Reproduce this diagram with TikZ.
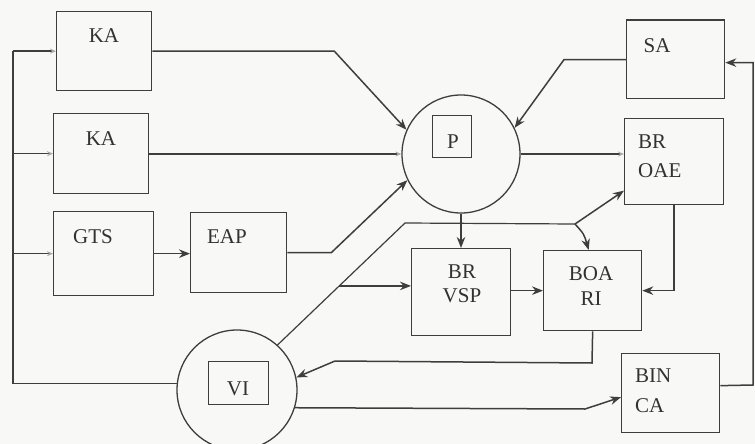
\documentclass[tikz,border=0pt]{standalone}
\usepackage{fontspec}
\setmainfont{Liberation Serif}
\usetikzlibrary{arrows.meta,calc}
\definecolor{ink}{RGB}{62,62,62}
\definecolor{txt}{RGB}{50,50,50}
\definecolor{bg}{RGB}{248,248,246}
\begin{document}
\begin{tikzpicture}[x=1pt,y=-1pt,
  box/.style={draw=ink,line width=1.3pt,rectangle,inner sep=0pt,anchor=north west},
  circ/.style={draw=ink,line width=1.3pt,circle,inner sep=0pt},
  lbl/.style={text=txt,font=\fontsize{21}{21}\selectfont,inner sep=0pt,anchor=base},
  lbll/.style={lbl,anchor=base west},
  con/.style={draw=ink,line width=1.5pt},
  arr/.style={con,-{Stealth[length=11pt,width=8.5pt]}},
  arrs/.style={con,-{Stealth[length=6pt,width=5pt,color=ink!45]}},
]
\fill[bg] (0,0) rectangle (755,444);
\useasboundingbox (0,0) rectangle (755,444);

% boxes
\node[box,minimum width=95pt,minimum height=79pt] (ka1) at (56,11) {};
\node[box,minimum width=95pt,minimum height=80pt] (ka2) at (53,113) {};
\node[box,minimum width=100pt,minimum height=84pt] (gts) at (53,211) {};
\node[box,minimum width=96pt,minimum height=80pt] (eap) at (190,212) {};
\node[box,minimum width=98pt,minimum height=78pt] (sa) at (626,20) {};
\node[box,minimum width=99pt,minimum height=86pt] (oae) at (624,118) {};
\node[box,minimum width=99pt,minimum height=87pt] (vsp) at (411,248) {};
\node[box,minimum width=98pt,minimum height=80pt] (boa) at (543,250) {};
\node[box,minimum width=98pt,minimum height=79pt] (bin) at (621,353) {};
\draw[ink,line width=2.8pt] (sa.north west) -- (sa.north east);

% circles
\node[circ,minimum size=118pt] (p) at (461,154) {};
\node[box,minimum width=39pt,minimum height=42pt] (pbox) at (432,115) {};
\node[circ,minimum size=120pt] (vi) at (237,390) {};
\node[box,minimum width=60pt,minimum height=43pt] (vibox) at (208,361) {};

% labels
\node[lbl] (tka1) at (104,43) {KA};
\node[lbl] (tka2) at (101,145) {KA};
\node[lbl] (tgts) at (93,243) {GTS};
\node[lbl] (teap) at (227,243) {EAP};
\node[lbl] (tsa) at (657,53) {SA};
\node[lbll] (toae1) at (638,148) {BR};
\node[lbll] (toae2) at (638,177) {OAE};
\node[lbl] (tvsp1) at (462,278) {BR};
\node[lbl] (tvsp2) at (462,302) {VSP};
\node[lbl] (tboa1) at (591,280) {BOA};
\node[lbl] (tboa2) at (591,305) {RI};
\node[lbll] (tbin1) at (635,382) {BIN};
\node[lbll] (tbin2) at (635,412) {CA};
\node[lbl] (tp) at (453,148) {P};
\node[lbl] (tvi) at (238,395) {VI};

% left feedback bus
\coordinate (bustop) at ([xshift=-43pt]ka1.west);
\draw[con] (vi.174) -| (bustop);
\draw[arrs] (bustop) -- (ka1.west);
\draw[arrs] (bustop |- ka2.west) -- (ka2.west);
\draw[arrs] (bustop |- gts.west) -- (gts.west);

% into P
\draw[arr] (ka1.east) -- ++(182,0) -- (p.156);
\draw[arrs] (ka2.east |- p.west) -- (p.west);
\draw[arr] (gts.east) -- (gts.east -| eap.west);
\draw[arr] (eap.east) -- ++(44,0) -- (p.206);
\draw[arr] (sa.west) -- ++(-62,0) -- (p.26);

% out of P
\draw[arrs] (p.east) -- (p.east -| oae.west);
\draw[arr] (p.south) -- (p.south |- vsp.north);

% VI diagonal and branches
\coordinate (j1) at (405,223);
\coordinate (j2) at (575,224);
\coordinate (j3) at ($(vi.48)!0.484!(j1)$);
\draw[con,line width=1.2pt] (vi.48) -- (j1) -- (j2);
\draw[arr] (j2) -- ([yshift=-29pt]oae.west);
\draw[arr] (j2) .. controls (584,234) .. ([xshift=-4pt]boa.north);
\draw[arr] (j3) -- (j3 -| vsp.west);

% middle row
\draw[arr] (vsp.east |- boa.west) -- (boa.west);
\draw[arr] (oae.south) |- (boa.east);

% back to VI
\draw[arr] (boa.south) -- (592,363) -- (335,361) -- (vi.12);

% VI to BIN CA
\draw[arr] (vi.-17) -- (585,409) -- ([yshift=-4pt]bin.west);

% BIN CA to SA
\draw[arr] ([yshift=7.5pt]bin.east) -- (753,385) |- ([yshift=-3pt]sa.east);
\end{tikzpicture}
\end{document}
